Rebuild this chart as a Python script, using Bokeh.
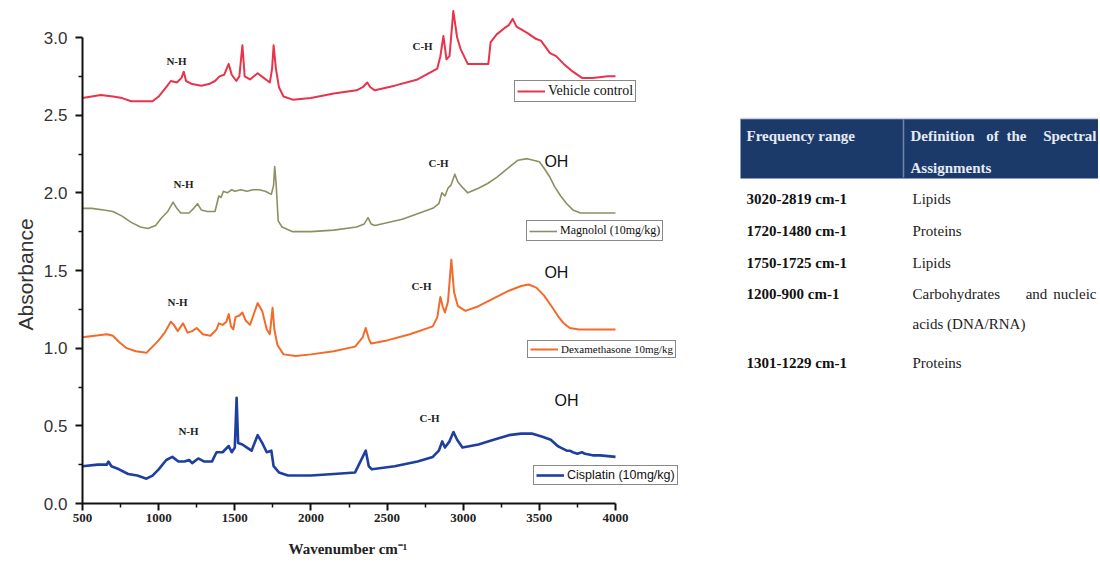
from bokeh.plotting import figure
from bokeh.models import (Range1d, FixedTicker, NumeralTickFormatter, Legend, LegendItem, Title)
from bokeh.core.properties import value
from bokeh.embed import file_html
from bokeh.resources import INLINE

# ---------------- data ----------------
vehicle_wn = [500, 560, 620, 700, 760, 820, 900, 960, 1000, 1050, 1080, 1120, 1150, 1165, 1180, 1220,
              1280, 1330, 1370, 1400, 1430, 1460, 1480, 1510, 1530, 1550, 1565, 1600, 1650, 1690, 1730,
              1745, 1755, 1770, 1790, 1820, 1880, 2000, 2150, 2300, 2340, 2370, 2390, 2420, 2550, 2700,
              2830, 2850, 2870, 2890, 2910, 2935, 2960, 2985, 3030, 3100, 3165, 3180, 3220, 3270, 3300,
              3325, 3350, 3420, 3480, 3510, 3570, 3610, 3660, 3720, 3780, 3850, 3950, 4000]
vehicle_abs = [2.61, 2.62, 2.63, 2.62, 2.61, 2.59, 2.59, 2.59, 2.62, 2.68, 2.72, 2.71, 2.74, 2.78, 2.72, 2.70,
               2.69, 2.70, 2.72, 2.75, 2.76, 2.83, 2.76, 2.72, 2.75, 2.95, 2.75, 2.73, 2.77, 2.74, 2.71,
               2.80, 2.95, 2.80, 2.68, 2.62, 2.60, 2.61, 2.64, 2.66, 2.68, 2.71, 2.68, 2.66, 2.69, 2.73,
               2.80, 2.88, 3.01, 2.86, 2.88, 3.17, 3.00, 2.92, 2.83, 2.83, 2.83, 2.97, 3.02, 3.06, 3.08,
               3.12, 3.07, 3.03, 2.99, 2.98, 2.90, 2.88, 2.83, 2.78, 2.74, 2.74, 2.75, 2.75]

magnolol_wn = [500, 560, 640, 700, 760, 820, 880, 930, 980, 1020, 1060, 1095, 1120, 1145, 1200, 1230, 1255,
               1280, 1320, 1370, 1395, 1410, 1425, 1450, 1480, 1500, 1540, 1580, 1620, 1660, 1700, 1740,
               1755, 1762, 1772, 1785, 1810, 1880, 2000, 2150, 2300, 2350, 2375, 2395, 2420, 2600, 2800,
               2840, 2860, 2880, 2900, 2920, 2945, 2965, 3000, 3030, 3100, 3160, 3220, 3270, 3320, 3360,
               3420, 3460, 3500, 3530, 3570, 3600, 3640, 3680, 3720, 3770, 3850, 4000]
magnolol_abs = [1.90, 1.90, 1.89, 1.88, 1.85, 1.81, 1.78, 1.77, 1.79, 1.84, 1.88, 1.94, 1.90, 1.87, 1.87, 1.90, 1.93,
                1.89, 1.88, 1.88, 1.98, 1.97, 2.01, 2.00, 2.02, 2.01, 2.02, 2.01, 2.02, 2.02, 2.01, 1.99,
                2.05, 2.17, 2.05, 1.82, 1.78, 1.75, 1.75, 1.76, 1.78, 1.80, 1.84, 1.80, 1.79, 1.83, 1.90,
                1.93, 2.00, 1.98, 2.03, 2.05, 2.12, 2.07, 2.03, 2.00, 2.03, 2.06, 2.10, 2.14, 2.18, 2.21,
                2.22, 2.21, 2.20, 2.16, 2.10, 2.04, 1.98, 1.93, 1.89, 1.87, 1.87, 1.87]

dexa_wn = [500, 580, 660, 700, 740, 790, 850, 920, 960, 1000, 1040, 1080, 1100, 1125, 1160, 1190, 1220, 1250,
           1290, 1340, 1380, 1395, 1420, 1445, 1460, 1475, 1490, 1505, 1530, 1550, 1570, 1600, 1625, 1650,
           1680, 1710, 1730, 1748, 1760, 1780, 1820, 1900, 2000, 2150, 2290, 2340, 2360, 2380, 2395, 2500,
           2650, 2800, 2830, 2850, 2865, 2880, 2900, 2922, 2940, 2965, 3015, 3100, 3200, 3300, 3380, 3430,
           3480, 3530, 3580, 3620, 3660, 3700, 3760, 3850, 4000]
dexa_abs = [1.07, 1.08, 1.09, 1.08, 1.04, 1.00, 0.98, 0.97, 1.01, 1.05, 1.10, 1.17, 1.15, 1.11, 1.16, 1.10, 1.11, 1.13,
            1.09, 1.08, 1.12, 1.16, 1.15, 1.17, 1.22, 1.14, 1.12, 1.20, 1.21, 1.23, 1.18, 1.15, 1.22, 1.29,
            1.24, 1.12, 1.09, 1.26, 1.12, 1.02, 0.96, 0.95, 0.96, 0.98, 1.01, 1.07, 1.13, 1.06, 1.03, 1.05,
            1.09, 1.14, 1.20, 1.33, 1.27, 1.23, 1.30, 1.57, 1.36, 1.27, 1.24, 1.27, 1.32, 1.37, 1.40, 1.41,
            1.39, 1.34, 1.27, 1.21, 1.16, 1.13, 1.12, 1.12, 1.12]

cis_wn = [500, 600, 660, 670, 690, 740, 800, 860, 920, 960, 1000, 1050, 1090, 1130, 1170, 1200, 1220, 1260,
          1300, 1350, 1380, 1420, 1460, 1480, 1500, 1512, 1522, 1550, 1580, 1610, 1650, 1680, 1710, 1740,
          1755, 1790, 1850, 2000, 2150, 2290, 2340, 2360, 2380, 2400, 2550, 2700, 2800, 2840, 2862, 2880,
          2910, 2936, 2960, 2995, 3100, 3200, 3300, 3380, 3450, 3520, 3575, 3620, 3640, 3660, 3680, 3700,
          3720, 3750, 3780, 3800, 3850, 3900, 4000]
cis_abs = [0.24, 0.25, 0.25, 0.27, 0.24, 0.22, 0.19, 0.18, 0.16, 0.18, 0.22, 0.28, 0.30, 0.27, 0.27, 0.28, 0.26, 0.29,
           0.27, 0.27, 0.33, 0.33, 0.37, 0.33, 0.36, 0.68, 0.39, 0.38, 0.36, 0.34, 0.44, 0.39, 0.33, 0.34,
           0.24, 0.20, 0.18, 0.18, 0.19, 0.20, 0.30, 0.34, 0.24, 0.22, 0.24, 0.27, 0.30, 0.34, 0.40, 0.36,
           0.40, 0.46, 0.41, 0.36, 0.38, 0.41, 0.44, 0.45, 0.45, 0.43, 0.41, 0.37, 0.36, 0.35, 0.34, 0.34,
           0.33, 0.32, 0.33, 0.32, 0.31, 0.31, 0.30]

series_names = ["Vehicle control", "Magnolol (10mg/kg)", "Dexamethasone 10mg/kg", "Cisplatin (10mg/kg)"]

x_ticks = [500, 1000, 1500, 2000, 2500, 3000, 3500, 4000]
x_minor = [750, 1250, 1750, 2250, 2750, 3250, 3750]
y_ticks = [0.0, 0.5, 1.0, 1.5, 2.0, 2.5, 3.0]
y_minor = [0.25, 0.75, 1.25, 1.75, 2.25, 2.75]

x_title = "Wavenumber cm\u207b\u00b9"
y_title = "Absorbance"

# band annotations: (label, wavenumber, absorbance)
nh_labels = [("N-H", 1117, 2.85), ("N-H", 1163, 2.055), ("N-H", 1124, 1.30), ("N-H", 1196, 0.465)]
ch_labels = [("C-H", 2733, 2.945), ("C-H", 2838, 2.19), ("C-H", 2726, 1.40), ("C-H", 2779, 0.55)]
oh_labels = [("OH", 3612, 2.20), ("OH", 3612, 1.485), ("OH", 3678, 0.66)]

table_header = ["Frequency range", "Definition of the Spectral", "Assignments"]
table_ranges = ["3020-2819 cm-1", "1720-1480 cm-1", "1750-1725 cm-1", "1200-900 cm-1", "", "1301-1229 cm-1"]
table_defs = ["Lipids", "Proteins", "Lipids", "Carbohydrates and nucleic", "acids (DNA/RNA)", "Proteins"]

# ---------------- figure ----------------
LEFT, TOP, BOTTOM = 82, 0, 50
PX_PER_WN = (615 - 82) / 3500.0
FRAME_W = 1016
FRAME_H = 503
x_end = 500 + FRAME_W / PX_PER_WN
y_end = 3.0 * FRAME_H / (503 - 37)

p = figure(frame_width=FRAME_W, frame_height=FRAME_H, output_backend="svg", toolbar_location=None,
           x_range=Range1d(500, x_end), y_range=Range1d(0, y_end),
           min_border_left=LEFT, min_border_right=0, min_border_top=TOP, min_border_bottom=BOTTOM)
# page-pixel coordinate system for layout items (table)
p.extra_x_ranges = {"tx": Range1d(LEFT, LEFT + FRAME_W)}
p.extra_y_ranges = {"ty": Range1d(TOP + FRAME_H, TOP)}
p.outline_line_color = None
p.xgrid.visible = False
p.ygrid.visible = False
p.background_fill_color = "white"

SERIF = "Liberation Serif"
SANS = "Liberation Sans"

xa = p.xaxis[0]
xa.bounds = (500, 4000)
xa.ticker = FixedTicker(ticks=x_ticks, minor_ticks=x_minor)
xa.formatter = NumeralTickFormatter(format="0")
xa.major_label_text_font = SERIF
xa.major_label_text_font_style = "bold"
xa.major_label_text_font_size = "13px"
xa.major_label_text_color = "#222222"
xa.major_label_standoff = 3

ya = p.yaxis[0]
ya.bounds = (0, 3.0)
ya.ticker = FixedTicker(ticks=y_ticks, minor_ticks=y_minor)
ya.formatter = NumeralTickFormatter(format="0.0")
ya.major_label_text_font = SANS
ya.major_label_text_font_size = "17px"
ya.major_label_text_color = "#333333"
ya.major_label_standoff = 8

for ax in (xa, ya):
    ax.axis_line_width = 2
    ax.axis_line_color = "#111111"
    ax.major_tick_line_width = 2
    ax.minor_tick_line_width = 1.5
    ax.major_tick_line_color = "#111111"
    ax.minor_tick_line_color = "#111111"
    ax.major_tick_in = 0
    ax.major_tick_out = 7
    ax.minor_tick_in = 0
    ax.minor_tick_out = 4

# axis titles, positioned along the axis bounds (not the full frame)
p.add_layout(Title(text="\u00a0", text_font_size="7px", standoff=0), "below")  # spacing row
p.add_layout(Title(text=x_title, align="left", offset=206,
                   text_font=SERIF, text_font_style="bold", text_font_size="15px",
                   text_color="#222222"), "below")
p.add_layout(Title(text=y_title, align="left", offset=173, standoff=8,
                   text_font=SANS, text_font_style="normal", text_font_size="21px",
                   text_color="#333333"), "left")

colors = ["#e8334a", "#8c8f62", "#f26b2a", "#1f3fa0"]
widths = [2.0, 1.6, 2.0, 2.6]
data = [(vehicle_wn, vehicle_abs), (magnolol_wn, magnolol_abs), (dexa_wn, dexa_abs), (cis_wn, cis_abs)]
renderers = []
for (xs, ys), c, w in zip(data, colors, widths):
    renderers.append(p.line(xs, ys, line_color=c, line_width=w, line_join="round"))

# band labels
p.text(x=[t[1] for t in nh_labels + ch_labels], y=[t[2] for t in nh_labels + ch_labels],
       text=[t[0] for t in nh_labels + ch_labels], text_font=value(SERIF), text_font_style="bold",
       text_font_size="11px", text_color="#222222", text_align="center", text_baseline="middle")
p.text(x=[t[1] for t in oh_labels], y=[t[2] for t in oh_labels], text=[t[0] for t in oh_labels],
       text_font=value(SANS), text_font_size="16px", text_color="#111111",
       text_align="center", text_baseline="middle")

# per-series legend boxes
legend_locs = [(432, 401), (444, 262), (445, 145), (451, 18)]
legend_fonts = [SERIF, SERIF, SERIF, SANS]
legend_sizes = ["14px", "12px", "11px", "12.5px"]
for name, r, loc, f, s in zip(series_names, renderers, legend_locs, legend_fonts, legend_sizes):
    lg = Legend(items=[LegendItem(label=name, renderers=[r])], location=loc,
                border_line_color="#111111", border_line_width=1.3,
                background_fill_color="white", background_fill_alpha=1.0,
                padding=2, spacing=0, margin=0, glyph_width=28, glyph_height=12,
                label_height=12, label_standoff=3, label_text_font=f, label_text_font_size=s,
                label_text_color="#111111")
    p.add_layout(lg, "center")

# ---------------- table (page-pixel coordinates via extra ranges) ----------------
TX, TY = "tx", "ty"
RIGHT = LEFT + FRAME_W
p.quad(left=[740], right=[RIGHT], top=[118], bottom=[178], fill_color="#1b3a6a",
       line_color=None, x_range_name=TX, y_range_name=TY)
p.segment(x0=[903], x1=[903], y0=[119], y1=[177], line_color="#6f86ad", line_width=1.5,
          x_range_name=TX, y_range_name=TY)
p.segment(x0=[740], x1=[RIGHT], y0=[118], y1=[118], line_color="#c9d3e3", line_width=1.5,
          x_range_name=TX, y_range_name=TY)

hdr_kw = dict(text_font=value(SERIF), text_font_style="bold", text_font_size="15px",
              text_color="#e6ebf3", text_baseline="middle", x_range_name=TX, y_range_name=TY)
p.text(x=[746], y=[135], text=[table_header[0]], text_align="left", **hdr_kw)
h_words = table_header[1].split(" ")
p.text(x=[910], y=[135], text=[h_words[0]], text_align="left", **hdr_kw)
p.text(x=[992, 1016], y=[135, 135], text=h_words[1:3], text_align="center", **hdr_kw)
p.text(x=[1096], y=[135], text=[h_words[3]], text_align="right", **hdr_kw)
p.text(x=[910], y=[167], text=[table_header[2]], text_align="left", **hdr_kw)

row_y = [198, 230, 262, 293, 323, 362]
p.text(x=[746] * len(row_y), y=row_y, text=table_ranges, text_font=value(SERIF),
       text_font_style="bold", text_font_size="15px", text_color="#111111",
       text_align="left", text_baseline="middle", x_range_name=TX, y_range_name=TY)

def_kw = dict(text_font=value(SERIF), text_font_size="15px", text_color="#222222",
              text_baseline="middle", x_range_name=TX, y_range_name=TY)
plain = [i for i, t in enumerate(table_defs) if i != 3]
p.text(x=[912] * len(plain), y=[row_y[i] for i in plain], text=[table_defs[i] for i in plain],
       text_align="left", **def_kw)
d_words = table_defs[3].split(" ")
p.text(x=[912], y=[row_y[3]], text=[d_words[0]], text_align="left", **def_kw)
p.text(x=[1036], y=[row_y[3]], text=[d_words[1]], text_align="center", **def_kw)
p.text(x=[1096], y=[row_y[3]], text=[d_words[2]], text_align="right", **def_kw)

open("out.html", "w").write(file_html(p, INLINE))
